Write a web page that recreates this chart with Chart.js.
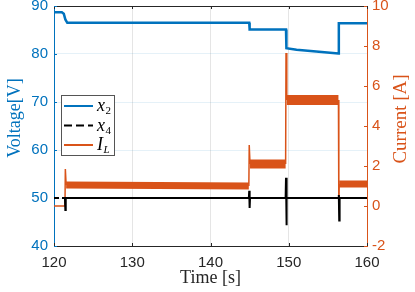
<!DOCTYPE html>
<html>
<head>
<meta charset="utf-8">
<script src="https://cdn.jsdelivr.net/npm/chart.js@4.4.0/dist/chart.umd.min.js"></script>
<style>
  html, body { margin: 0; padding: 0; background: #fff; }
  #wrap { width: 415px; height: 292px; }
</style>
</head>
<body>
<div id="wrap"><canvas id="chart" width="415" height="292"></canvas></div>
<script>
// values (time in s, x2/x4 in V, I_L in A)
const timeX2 = [120, 121.0, 121.25, 121.45, 121.7, 144.95, 145.0, 149.65, 149.7, 151, 153.5, 156.35, 156.4, 160];
const voltX2 = [88.7, 88.7, 88.4, 87.2, 86.5, 86.5, 85.1, 85.1, 81.2, 80.9, 80.5, 80.1, 86.4, 86.4];

const timeX4 = [120, 121.4, 121.45, 121.5, 144.9, 144.95, 145.0, 145.05, 149.6, 149.65, 149.7, 149.75, 156.35, 156.4, 156.45, 156.5, 160];
const voltX4 = [50.0, 50.0, 47.5, 50.0, 50.0, 51.5, 47.9, 50.0, 50.0, 54.2, 44.3, 50.0, 50.0, 50.6, 45.3, 50.0, 50.0];

const timeIL = [120, 121.4, 121.45, 121.55, 144.9, 144.95, 145.05, 149.6, 149.65, 149.75, 156.35, 156.4, 156.45, 160];
const currIL = [0.0, 0.0, 1.85, 1.05, 1.0, 3.05, 2.1, 2.1, 7.65, 5.3, 5.3, -0.2, 1.1, 1.1];

const timeTicks = [120, 130, 140, 150, 160];
const voltTicks = [40, 50, 60, 70, 80, 90];
const currTicks = [-2, 0, 2, 4, 6, 8, 10];

const seriesLabels = ['x_2', 'x_4', 'I_L'];

const BLUE = '#0072BD', ORANGE = '#D95319', DARK = '#262626';
const SANS = '"Liberation Sans", Arial, sans-serif';
const SERIF = '"Liberation Serif", "Times New Roman", serif';

function toPoints(ts, vs) {
  return ts.map((t, i) => ({ x: t, y: vs[i] }));
}

// noisy current shows up as a thick band on the flat parts
function bandWidth(ctx) {
  const a = ctx.p0.parsed, b = ctx.p1.parsed;
  const flat = Math.abs(b.y - a.y) < 0.2 && (b.x - a.x) > 1 && a.y > 0.5;
  if (!flat) return 1.5;
  if (a.y > 4) return 10;
  if (a.y > 1.5) return 9;
  return 7;
}

const matlabFrame = {
  id: 'matlabFrame',
  beforeDatasetsDraw(chart) {
    const { ctx, chartArea: a, scales } = chart;
    const tl = 3;
    ctx.save();
    ctx.lineWidth = 1;
    ctx.strokeStyle = DARK;
    ctx.beginPath();
    ctx.moveTo(a.left, a.top + 0.5);
    ctx.lineTo(a.right, a.top + 0.5);
    timeTicks.forEach(t => {
      const x = Math.round(scales.x.getPixelForValue(t)) + 0.5;
      ctx.moveTo(x, a.bottom); ctx.lineTo(x, a.bottom - tl);
      ctx.moveTo(x, a.top); ctx.lineTo(x, a.top + tl);
    });
    ctx.stroke();
    ctx.strokeStyle = BLUE;
    ctx.beginPath();
    voltTicks.forEach(v => {
      const y = Math.round(scales.y.getPixelForValue(v)) + 0.5;
      ctx.moveTo(a.left, y); ctx.lineTo(a.left + tl, y);
    });
    ctx.stroke();
    ctx.strokeStyle = ORANGE;
    ctx.beginPath();
    currTicks.forEach(v => {
      const y = Math.round(scales.y1.getPixelForValue(v)) + 0.5;
      ctx.moveTo(a.right, y); ctx.lineTo(a.right - tl, y);
    });
    ctx.stroke();
    ctx.restore();
  },
  afterDatasetsDraw(chart) {
    const { ctx } = chart;
    ctx.save();
    // legend box
    ctx.fillStyle = '#fff';
    ctx.fillRect(62, 96, 52, 59);
    ctx.strokeStyle = '#555';
    ctx.lineWidth = 1;
    ctx.strokeRect(61.5, 95.5, 53, 60);
    const rows = [106, 125.5, 145];
    chart.data.datasets.forEach((ds, i) => {
      const y = rows[i];
      ctx.strokeStyle = ds.borderColor;
      ctx.lineWidth = 2;
      ctx.setLineDash(ds.legendDash || []);
      ctx.beginPath();
      ctx.moveTo(64, y);
      ctx.lineTo(93, y);
      ctx.stroke();
      ctx.setLineDash([]);
      const [main, sub] = ds.label.split('_');
      ctx.fillStyle = '#000';
      ctx.textAlign = 'left';
      ctx.textBaseline = 'alphabetic';
      ctx.font = 'italic 18px ' + SERIF;
      ctx.fillText(main, 97, y + 5);
      const w = ctx.measureText(main).width;
      ctx.font = (/\d/.test(sub) ? '' : 'italic ') + '11px ' + SERIF;
      ctx.fillText(sub, 97 + w + 0.5, y + 8);
    });
    ctx.restore();
  },
  afterDraw(chart) {
    const { ctx } = chart;
    ctx.save();
    ctx.textAlign = 'center';
    ctx.textBaseline = 'middle';
    ctx.font = '18px ' + SERIF;
    ctx.fillStyle = BLUE;
    ctx.translate(15, 118);
    ctx.rotate(-Math.PI / 2);
    ctx.fillText('Voltage[V]', 0, 0);
    ctx.restore();

    ctx.save();
    ctx.textAlign = 'center';
    ctx.textBaseline = 'middle';
    ctx.font = '19px ' + SERIF;
    ctx.fillStyle = ORANGE;
    ctx.translate(401, 119);
    ctx.rotate(-Math.PI / 2);
    ctx.fillText('Current [A]', 0, 0);
    ctx.restore();

    ctx.save();
    ctx.textAlign = 'center';
    ctx.textBaseline = 'middle';
    ctx.font = '18px ' + SERIF;
    ctx.fillStyle = DARK;
    ctx.fillText('Time [s]', 210.5, 278);
    ctx.restore();
  }
};

const ctx = document.getElementById('chart').getContext('2d');
const chart = new Chart(ctx, {
  type: 'line',
  data: {
    datasets: [
      {
        label: seriesLabels[0],
        data: toPoints(timeX2, voltX2),
        yAxisID: 'y',
        borderColor: BLUE,
        borderWidth: 2.5
      },
      {
        label: seriesLabels[1],
        data: toPoints(timeX4, voltX4),
        yAxisID: 'y',
        borderColor: '#000',
        borderWidth: 2,
        legendDash: [8, 4],
        segment: {
          borderDash: c => c.p1.parsed.x <= 121.4 ? [5, 3] : undefined
        }
      },
      {
        label: seriesLabels[2],
        data: toPoints(timeIL, currIL),
        yAxisID: 'y1',
        borderColor: ORANGE,
        borderWidth: 1.5,
        segment: { borderWidth: bandWidth }
      }
    ]
  },
  options: {
    responsive: false,
    animation: false,
    layout: { padding: { top: 6, left: 0, right: 0, bottom: 0 } },
    elements: { point: { radius: 0 }, line: { tension: 0, fill: false } },
    plugins: { legend: { display: false }, tooltip: { enabled: false } },
    scales: {
      x: {
        type: 'linear',
        min: 120, max: 160,
        afterBuildTicks: s => { s.ticks = timeTicks.map(v => ({ value: v })); },
        afterFit: s => { s.height = 46; s.paddingLeft = 0; s.paddingRight = 0; },
        grid: { color: 'rgba(38,38,38,0.12)', drawTicks: false },
        border: { color: DARK },
        ticks: { color: DARK, padding: 8, font: { family: SANS, size: 15 }, maxRotation: 0 }
      },
      y: {
        position: 'left',
        min: 40, max: 90,
        afterBuildTicks: s => { s.ticks = voltTicks.map(v => ({ value: v })); },
        afterFit: s => { s.width = 54; s.paddingTop = 0; s.paddingBottom = 0; },
        grid: { color: 'rgba(0,114,189,0.10)', drawTicks: false },
        border: { color: BLUE },
        ticks: { color: BLUE, padding: 6, font: { family: SANS, size: 15 } }
      },
      y1: {
        position: 'right',
        min: -2, max: 10,
        afterBuildTicks: s => { s.ticks = currTicks.map(v => ({ value: v })); },
        afterFit: s => { s.width = 48; s.paddingTop = 0; s.paddingBottom = 0; },
        grid: { display: false, drawTicks: false },
        border: { color: ORANGE },
        ticks: { color: ORANGE, padding: 5, font: { family: SANS, size: 15 } }
      }
    }
  },
  plugins: [matlabFrame]
});
</script>
</body>
</html>
